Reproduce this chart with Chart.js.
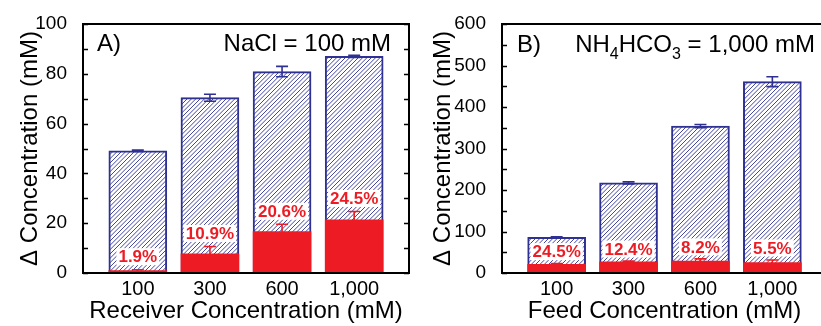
<!DOCTYPE html>
<html><head><meta charset="utf-8">
<script src="https://cdn.jsdelivr.net/npm/chart.js@4.4.1/dist/chart.umd.min.js"></script>
<style>
html,body{margin:0;padding:0;background:#fff;overflow:hidden;width:821px;height:326px}
#wa{position:absolute;left:0;top:0;width:410px;height:326px}
#wb{position:absolute;left:410px;top:0;width:420px;height:326px}
canvas{display:block}
</style></head><body>
<div id="wa"><canvas id="ca" width="410" height="326"></canvas></div>
<div id="wb"><canvas id="cb" width="420" height="326"></canvas></div>
<script>
// ---- data ----
const categories = ['100', '300', '600', '1,000'];

// Panel A: NaCl = 100 mM, x = receiver concentration
const aTotal      = [49.1, 70.4, 80.9, 87.0];
const aTotalErr   = [0.3, 1.4, 2.1, 0.4];
const aPart       = [0.93, 7.67, 16.67, 21.32];
const aPartErr    = [0.4, 3.0, 2.9, 3.4];
const aPctLabels  = ['1.9%', '10.9%', '20.6%', '24.5%'];
const aTickLabels = [0, 20, 40, 60, 80, 100];

// Panel B: NH4HCO3 = 1,000 mM, x = feed concentration
const bTotal      = [86, 217, 354, 461];
const bTotalErr   = [1.5, 2.5, 4, 12];
const bPart       = [21.1, 26.9, 29.0, 25.4];
const bPartErr    = [1.5, 2, 5, 6];
const bPctLabels  = ['24.5%', '12.4%', '8.2%', '5.5%'];
const bTickLabels = [0, 100, 200, 300, 400, 500, 600];

// ---- styles ----
const NAVY = '#2e3192';
const RED = '#ed1c24';
const FONT = "'Liberation Sans', Arial, Helvetica, sans-serif";
Chart.defaults.font.family = FONT;
Chart.defaults.color = '#000';

function hatch() {
  const s = 13;
  const c = document.createElement('canvas');
  c.width = s; c.height = s;
  const g = c.getContext('2d');
  g.fillStyle = '#fff'; g.fillRect(0, 0, s, s);
  g.strokeStyle = '#4346a3'; g.lineWidth = 1.0;
  const step = s / 3;
  for (let k = -2 * s; k <= 2 * s; k += step) {
    g.beginPath(); g.moveTo(k, s); g.lineTo(k + s, 0); g.stroke();
  }
  return g.createPattern(c, 'repeat');
}

const panelPlugin = {
  id: 'panel',
  afterDatasetsDraw(chart, args, o) {
    const ctx = chart.ctx;
    const xs = chart.scales.x, ys = chart.scales.y;
    ctx.save();
    // error bars
    chart.data.datasets.forEach((ds, di) => {
      ctx.strokeStyle = ds.errColor; ctx.lineWidth = 1.6;
      ds.data.forEach((p, i) => {
        const e = ds.errors[i];
        const x = xs.getPixelForValue(p.x);
        const y1 = ys.getPixelForValue(p.y + e), y2 = ys.getPixelForValue(p.y - e);
        ctx.beginPath();
        ctx.moveTo(x, y1); ctx.lineTo(x, y2);
        ctx.moveTo(x - 6, y1); ctx.lineTo(x + 6, y1);
        ctx.moveTo(x - 6, y2); ctx.lineTo(x + 6, y2);
        ctx.stroke();
      });
    });
    // percentage labels
    const part = chart.data.datasets[0];
    ctx.font = 'bold 17px ' + FONT;
    ctx.textAlign = 'center'; ctx.textBaseline = 'middle';
    o.labels.forEach((t, i) => {
      const x = xs.getPixelForValue(part.data[i].x);
      const y = ys.getPixelForValue(part.data[i].y + part.errors[i]) - o.labelGap;
      const w = ctx.measureText(t).width;
      ctx.fillStyle = '#fff';
      ctx.fillRect(x - w / 2 - 2, y - 8.5, w + 4, 17);
      ctx.fillStyle = RED;
      ctx.fillText(t, x, y + 1);
    });
    // frame and inward ticks
    const a = chart.chartArea;
    ctx.strokeStyle = '#000'; ctx.lineWidth = 1.5;
    ys.ticks.forEach(t => {
      const y = Math.round(ys.getPixelForValue(t.value)) + 0.5;
      ctx.beginPath();
      ctx.moveTo(a.left, y); ctx.lineTo(a.left + 5, y);
      ctx.moveTo(a.right, y); ctx.lineTo(a.right - 5, y);
      ctx.stroke();
    });
    ctx.lineWidth = 2;
    ctx.strokeRect(a.left, a.top, a.right - a.left, a.bottom - a.top);
    // panel annotations
    ctx.fillStyle = '#000';
    ctx.textBaseline = 'alphabetic';
    ctx.font = '24px ' + FONT;
    ctx.textAlign = 'left';
    ctx.fillText(o.tag, o.tagX, o.textY);
    const parts = o.note;
    let total = 0;
    parts.forEach(p => { ctx.font = (p.sub ? '16px ' : '24px ') + FONT; total += ctx.measureText(p.t).width; });
    let x = o.noteRight - total;
    parts.forEach(p => {
      ctx.font = (p.sub ? '16px ' : '24px ') + FONT;
      ctx.fillText(p.t, x, o.textY + (p.sub ? 7 : 0));
      x += ctx.measureText(p.t).width;
    });
    ctx.restore();
  }
};

function makeChart(id, cfg) {
  const pattern = hatch();
  return new Chart(document.getElementById(id), {
    type: 'bar',
    data: {
      datasets: [
        {
          label: 'part', order: 0, grouped: false, barThickness: 58,
          data: cfg.part.map((v, i) => ({ x: i + 1, y: v })),
          errors: cfg.partErr, errColor: RED,
          backgroundColor: RED, borderWidth: 0
        },
        {
          label: 'total', order: 1, grouped: false, barThickness: 58,
          data: cfg.total.map((v, i) => ({ x: i + 1, y: v })),
          errors: cfg.totalErr, errColor: NAVY,
          backgroundColor: pattern, borderColor: NAVY, borderWidth: 2
        }
      ]
    },
    options: {
      responsive: false, animation: false, devicePixelRatio: 1,
      layout: { padding: { left: 0, right: cfg.padRight, top: 24, bottom: 0 } },
      plugins: {
        legend: { display: false }, tooltip: { enabled: false },
        panel: cfg.panel
      },
      scales: {
        x: {
          type: 'linear', min: 0.24, max: 4.76, offset: false,
          afterBuildTicks: s => { s.ticks = categories.map((c, i) => ({ value: i + 1 })); },
          afterFit: s => { s.height = 53; },
          ticks: { autoSkip: false, maxRotation: 0, padding: -4, font: { size: 20 }, color: '#000',
                   callback: v => categories[Math.round(v) - 1] },
          grid: { display: false }, border: { display: false },
          title: { display: true, text: cfg.xTitle, font: { size: 24 }, color: '#000', padding: { top: 0, bottom: 0 } }
        },
        y: {
          min: 0, max: cfg.yMax,
          afterFit: s => { s.width = cfg.yWidth; },
          ticks: { stepSize: cfg.yStep, autoSkip: false, padding: 8, font: { size: 19 }, color: '#000',
                   callback: v => cfg.yLabels.includes(v) ? String(v) : '' },
          grid: { display: false }, border: { display: false },
          title: { display: true, text: 'Δ Concentration (mM)', font: { size: 24 }, color: '#000', padding: { top: cfg.yTitlePad, bottom: 0 } }
        }
      }
    },
    plugins: [panelPlugin]
  });
}

makeChart('ca', {
  total: aTotal, totalErr: aTotalErr, part: aPart, partErr: aPartErr,
  yMax: 100, yStep: 10, yLabels: aTickLabels, yWidth: 83, padRight: 1, yTitlePad: 16,
  xTitle: 'Receiver Concentration (mM)',
  panel: { labels: aPctLabels, labelGap: 13, tag: 'A)', tagX: 97, textY: 51,
           note: [{ t: 'NaCl = 100 mM' }], noteRight: 391 }
});
makeChart('cb', {
  total: bTotal, totalErr: bTotalErr, part: bPart, partErr: bPartErr,
  yMax: 600, yStep: 50, yLabels: bTickLabels, yWidth: 92, padRight: 3, yTitlePad: 19,
  xTitle: 'Feed Concentration (mM)',
  panel: { labels: bPctLabels, labelGap: 12, tag: 'B)', tagX: 107, textY: 52,
           note: [{ t: 'NH' }, { t: '4', sub: true }, { t: 'HCO' }, { t: '3', sub: true }, { t: ' = 1,000 mM' }], noteRight: 405 }
});
</script>
</body></html>
